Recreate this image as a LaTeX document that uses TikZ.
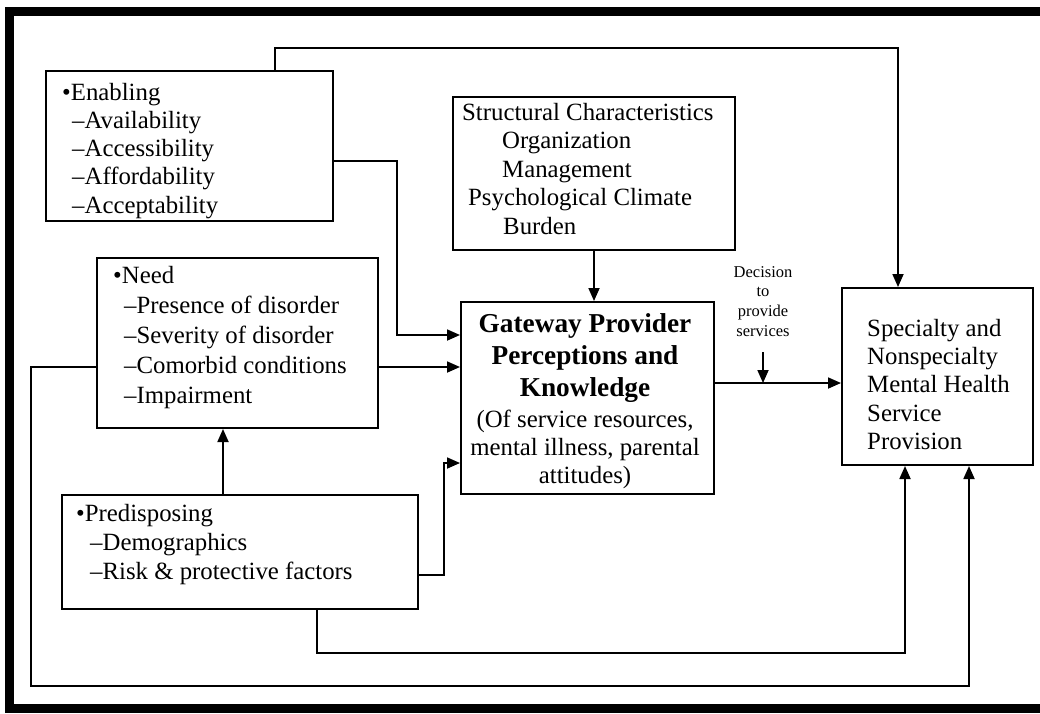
\documentclass[tikz,border=0pt]{standalone}
\usepackage{fontspec}
\setmainfont{Liberation Serif}
\usetikzlibrary{arrows.meta}
\newcommand\regf{\fontsize{24.8}{28}\selectfont}
\newcommand\boldf{\fontsize{27.3}{32}\selectfont\bfseries}
\newcommand\smallf{\fontsize{16.5}{20}\selectfont}
\begin{document}
\begin{tikzpicture}[x=1pt,y=-1pt,
  box/.style={draw, line width=2pt, inner sep=0pt, rectangle},
  conn/.style={line width=1.8pt},
  arr/.style={conn, -{Triangle[length=13pt,width=11pt]}},
  txt/.style={anchor=base west, inner sep=0pt, font=\regf},
  ctxt/.style={anchor=base, inner sep=0pt, font=\regf},
  btxt/.style={anchor=base, inner sep=0pt, font=\boldf},
  stxt/.style={anchor=base, inner sep=0pt, font=\smallf}]
\useasboundingbox (0,0) rectangle (1040,713);
\clip (0,0) rectangle (1040,713);
% outer frame
\draw[line width=9pt] (9.5,11) rectangle (1048,708);

% boxes
\node[box, minimum width=287pt, minimum height=150pt] (en) at (189.5,146) {};
\node[box, minimum width=282pt, minimum height=153pt] (st) at (594,173.5) {};
\node[box, minimum width=281pt, minimum height=170pt] (nd) at (237.5,343) {};
\node[box, minimum width=253pt, minimum height=192pt] (gw) at (587.5,398) {};
\node[box, minimum width=191pt, minimum height=177pt] (sp) at (937.5,376.5) {};
\node[box, minimum width=356pt, minimum height=114pt] (pr) at (240,552) {};

% Enabling text
\node[txt] (en1) at (62,100) {•Enabling};
\node[txt] (en2) at (72,128.3) {–Availability};
\node[txt] (en3) at (72,156.6) {–Accessibility};
\node[txt] (en4) at (72,184.9) {–Affordability};
\node[txt] (en5) at (72,213.2) {–Acceptability};

% Structural text
\node[txt] (st1) at (462,120) {Structural Characteristics};
\node[txt] (st2) at (502,148.5) {Organization};
\node[txt] (st3) at (502,177) {Management};
\node[txt] (st4) at (468,205.5) {Psychological Climate};
\node[txt] (st5) at (503,234) {Burden};

% Need text
\node[txt] (nd1) at (113,283) {•Need};
\node[txt] (nd2) at (124,313) {–Presence of disorder};
\node[txt] (nd3) at (124,343) {–Severity of disorder};
\node[txt] (nd4) at (124,373) {–Comorbid conditions};
\node[txt] (nd5) at (124,403) {–Impairment};

% Gateway text
\node[btxt] (gw1) at (585,332) {Gateway Provider};
\node[btxt] (gw2) at (585,364) {Perceptions and};
\node[btxt] (gw3) at (585,396.5) {Knowledge};
\node[ctxt] (gw4) at (585,427) {(Of service resources,};
\node[ctxt] (gw5) at (585,455) {mental illness, parental};
\node[ctxt] (gw6) at (585,483) {attitudes)};

% Specialty text
\node[txt] (sp1) at (867,336) {Specialty and};
\node[txt] (sp2) at (867,364) {Nonspecialty};
\node[txt] (sp3) at (867,392.5) {Mental Health};
\node[txt] (sp4) at (867,421) {Service};
\node[txt] (sp5) at (867,449) {Provision};

% Predisposing text
\node[txt] (pr1) at (76,521) {•Predisposing};
\node[txt] (pr2) at (90,550) {–Demographics};
\node[txt] (pr3) at (90,579) {–Risk \& protective factors};

% Decision label
\node[stxt] (dl1) at (763,277) {Decision};
\node[stxt] (dl2) at (763,296) {to};
\node[stxt] (dl3) at (763,316) {provide};
\node[stxt] (dl4) at (763,336) {services};

% bend coordinates
\coordinate (t1) at (275,48);
\coordinate (t2) at (898,48);
\coordinate (b1) at (397,161);
\coordinate (b2) at (397,335);
\coordinate (n1) at (0,367);
\coordinate (s1) at (594,0);
\coordinate (p1) at (223,0);
\coordinate (p2) at (444,575);
\coordinate (p3) at (444,463);
\coordinate (q1) at (317,653);
\coordinate (q2) at (905,653);
\coordinate (l1) at (31,367);
\coordinate (l2) at (31,686);
\coordinate (l3) at (969,686);
\coordinate (g1) at (0,383);
\coordinate (d1) at (763,352);

% connectors
\draw[arr] (en.north -| t1) -- (t1) -- (t2) -- (t2 |- sp.north);
\draw[arr] (b1 -| en.east) -- (b1) -- (b2) -- (b2 -| gw.west);
\draw[arr] (n1 -| nd.east) -- (n1 -| gw.west);
\draw[arr] (s1 |- st.south) -- (s1 |- gw.north);
\draw[arr] (p1 |- pr.north) -- (p1 |- nd.south);
\draw[arr] (p2 -| pr.east) -- (p2) -- (p3) -- (p3 -| gw.west);
\draw[arr] (q1 |- pr.south) -- (q1) -- (q2) -- (q2 |- sp.south);
\draw[arr] (l1 -| nd.west) -- (l1) -- (l2) -- (l3) -- (l3 |- sp.south);
\draw[arr] (g1 -| gw.east) -- (g1 -| sp.west);
\draw[arr] (d1) -- (d1 |- g1);
\end{tikzpicture}
\end{document}
